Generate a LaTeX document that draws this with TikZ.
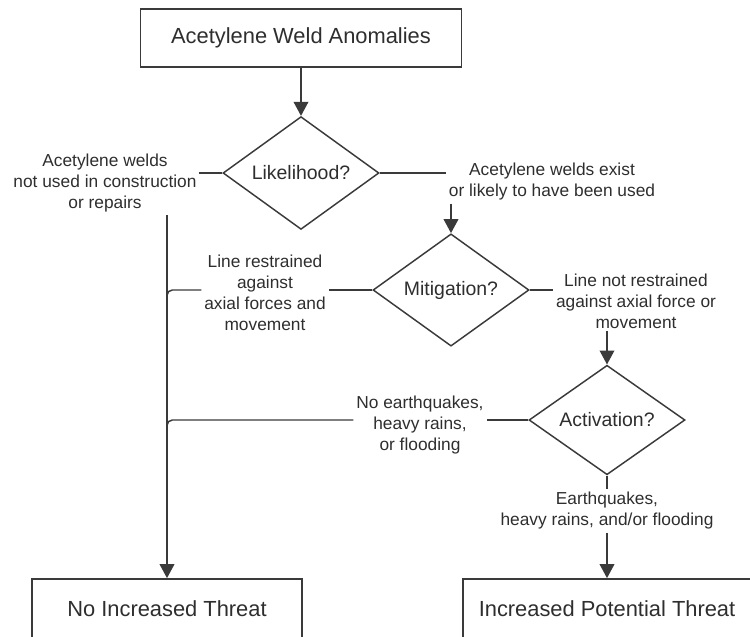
\documentclass[tikz,border=0pt]{standalone}
\usepackage{fontspec}
\setmainfont{Liberation Sans}
\usepackage{xcolor}
\usetikzlibrary{arrows.meta, shapes.geometric, positioning, calc}
\definecolor{inkgray}{HTML}{2E2E2E}
\definecolor{linegray}{HTML}{3A3A3A}

\begin{document}
\begin{tikzpicture}[x=0.75pt, y=-0.75pt, >={Triangle[length=10.5pt,width=11pt]},
    box/.style={draw=linegray, line width=1.3pt, minimum height=44pt, inner sep=0pt,
      font=\fontsize{16.4}{19}\selectfont, text=inkgray},
    query/.style={diamond, draw=linegray, line width=1.1pt, minimum width=117pt,
      minimum height=65pt, inner sep=0pt, font=\fontsize{14.6}{17}\selectfont, text=inkgray},
    answer/.style={align=center, inner sep=2pt, font=\fontsize{13}{15.75}\selectfont, text=inkgray},
    flow/.style={linegray, line width=1.1pt}]
      \useasboundingbox (0,0) rectangle (750,636);
      \clip (0,0) rectangle (750,636);

      % boxes and decisions
      \node[box, minimum width=240.75pt] (weld) at (301,38) {Acetylene Weld Anomalies};
      \node[query] (like) at (301,173) {Likelihood?};
      \node[query] (mitig) at (451,290) {Mitigation?};
      \node[query] (activ) at (607,420) {Activation?};
      \node[box, minimum width=202.5pt, minimum height=45pt] (nothreat) at (167,609) {No Increased Threat};
      \node[box, minimum width=216pt, minimum height=45pt] (threat) at (607,609) {Increased Potential Threat};

      % answers
      \node[answer] (unused) at (105,183) {Acetylene welds\\not used in construction\\or repairs};
      \node[answer] (used) at (552,182) {Acetylene welds exist\\or likely to have been used};
      \node[answer] (held) at (265,293) {Line restrained\\against\\axial forces and\\movement};
      \node[answer] (loose) at (636,301) {Line not restrained\\against axial force or\\movement};
      \node[answer] (calm) at (420,425) {No earthquakes,\\heavy rains,\\or flooding};
      \node[answer] (quake) at (607,511) {Earthquakes,\\heavy rains, and/or flooding};

      \draw[flow, ->] (weld) -- (like);
      \draw[flow] (like.west) -- (like.west -| unused.east);
      \draw[flow, ->] (unused.south -| nothreat.north) -- (nothreat.north);
      \draw[flow] (like.east) -- (like.east -| used.west);
      \draw[flow, ->] (used.south -| mitig.north) -- (mitig.north);

      \draw[flow] (mitig.west) -- (mitig.west -| held.east);
      \draw[flow, rounded corners=4pt] (held.west |- mitig.west) -- (mitig.west -| nothreat.north) -- ++(0,12);
      \draw[flow] (mitig.east) -- (mitig.east -| loose.west);
      \draw[flow, ->] (loose.south -| activ.north) -- (activ.north);

      \draw[flow] (activ.west) -- (activ.west -| calm.east);
      \draw[flow, rounded corners=4pt] (calm.west |- activ.west) -- (activ.west -| nothreat.north) -- ++(0,12);
      \draw[flow] (activ.south) -- (activ.south |- quake.north);
      \draw[flow, ->] (quake.south -| threat.north) -- (threat.north);
    \end{tikzpicture}
\end{document}
